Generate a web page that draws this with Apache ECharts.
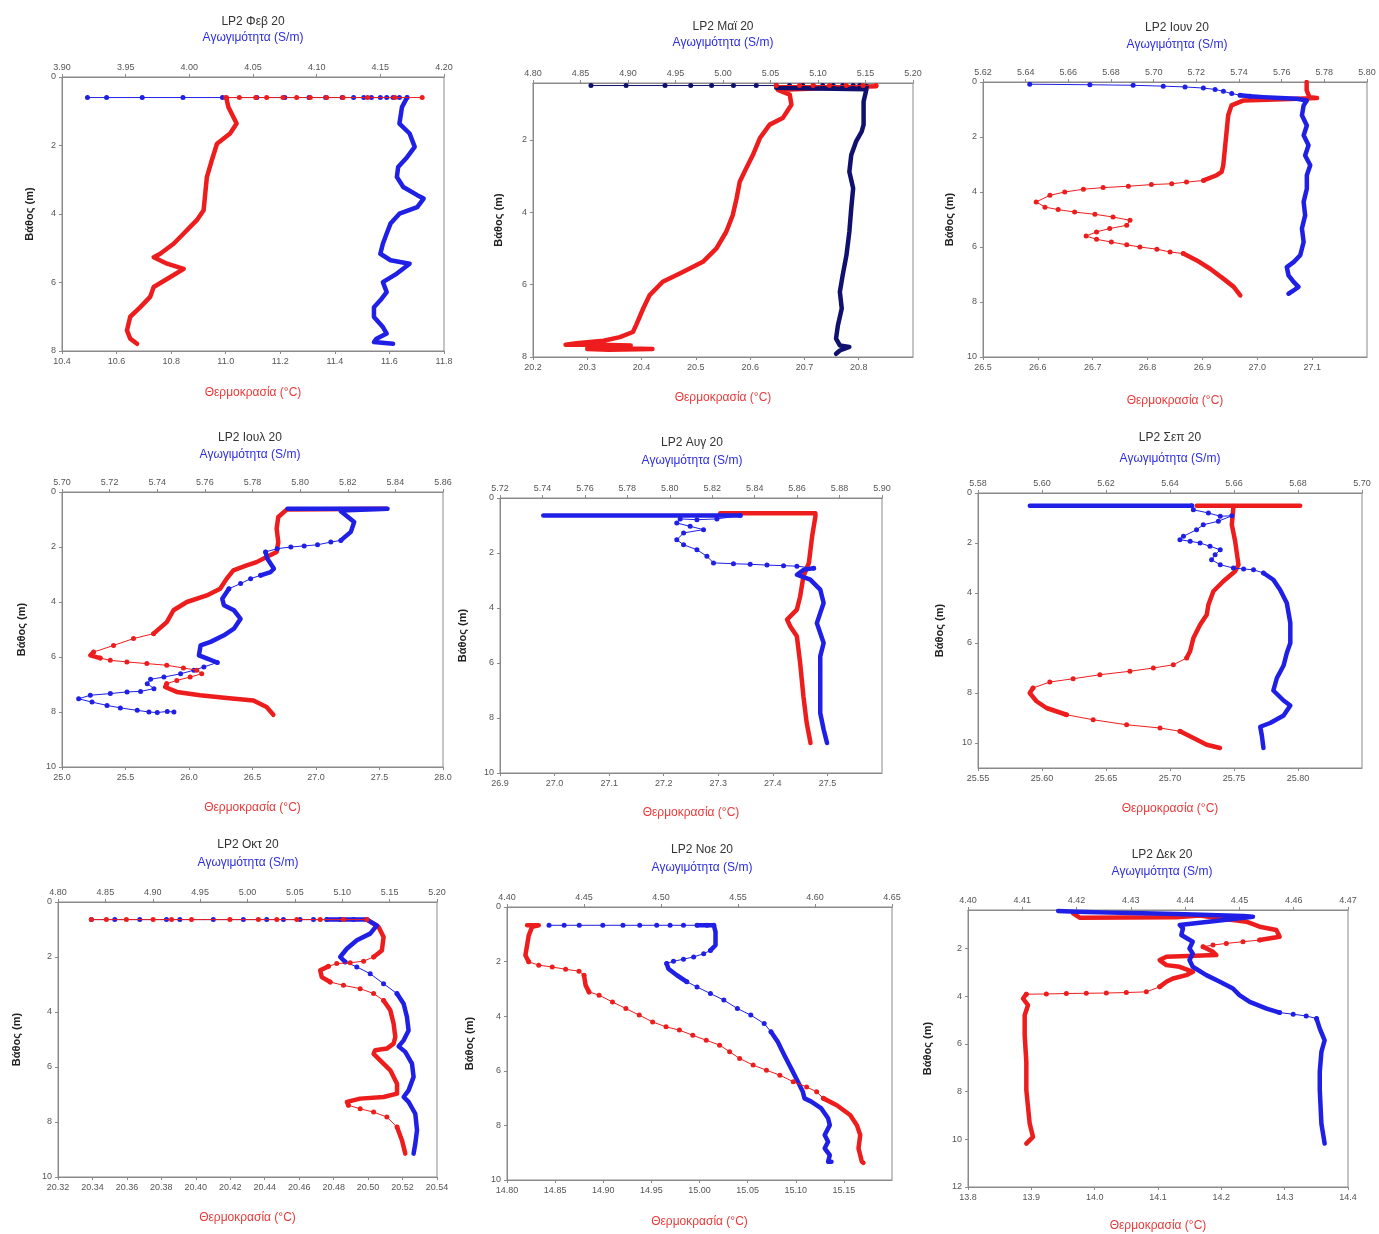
<!DOCTYPE html>
<html><head><meta charset="utf-8">
<script src="https://cdn.jsdelivr.net/npm/echarts@6/dist/echarts.min.js"></script>
<style>html,body{margin:0;padding:0;background:#fff}#c{width:1379px;height:1234px}</style>
</head><body><div id="c"></div><script>
// ---------- DATA: [value, depth(m)] ----------
// Feb
const febCondDots = [[[3.920,0.6],[3.935,0.6],[3.963,0.6],[3.995,0.6],[4.026,0.6],[4.053,0.6],[4.075,0.6],[4.094,0.6],[4.107,0.6],[4.120,0.6],[4.129,0.6],[4.137,0.6],[4.143,0.6],[4.150,0.6],[4.155,0.6],[4.160,0.6],[4.165,0.6],[4.171,0.6]]];
const febCondLine = [[[4.171,0.60],[4.167,0.88],[4.165,1.36],[4.173,1.65],[4.177,2.04],[4.171,2.34],[4.164,2.63],[4.163,2.92],[4.168,3.21],[4.179,3.45],[4.184,3.55],[4.179,3.80],[4.165,3.99],[4.158,4.28],[4.155,4.57],[4.152,4.87],[4.150,5.16],[4.158,5.35],[4.173,5.45],[4.163,5.74],[4.152,5.99],[4.155,6.28],[4.150,6.52],[4.145,6.72],[4.145,7.01],[4.152,7.30],[4.155,7.49],[4.147,7.64],[4.145,7.74],[4.160,7.79]]];
const febTempDots = [[[11.00,0.6],[11.05,0.6],[11.11,0.6],[11.15,0.6],[11.21,0.6],[11.26,0.6],[11.31,0.6],[11.37,0.6],[11.43,0.6],[11.52,0.6],[11.62,0.6],[11.72,0.6]]];
const febTempLine = [[[11.004,0.6],[11.004,0.68],[11.01,0.88],[11.04,1.36],[11.016,1.65],[10.968,1.95],[10.949,2.43],[10.931,2.92],[10.925,3.4],[10.919,3.89],[10.894,4.18],[10.846,4.57],[10.809,4.87],[10.76,5.16],[10.736,5.26],[10.785,5.45],[10.846,5.6],[10.797,5.84],[10.736,6.13],[10.723,6.42],[10.687,6.72],[10.65,7.0],[10.638,7.4],[10.65,7.64],[10.675,7.79]]];
// May
const mayCondDots = [[[4.861,0.5],[4.898,0.5],[4.939,0.5],[4.966,0.5],[4.988,0.5],[5.011,0.5],[5.035,0.5],[5.056,0.5],[5.070,0.5],[5.084,0.5],[5.095,0.5],[5.105,0.5],[5.116,0.5],[5.126,0.5],[5.137,0.5],[5.144,0.5],[5.151,0.52]]];
const mayCondLine = [[[5.056,0.56],[5.100,0.58],[5.151,0.60],[5.148,0.94],[5.148,1.58],[5.146,1.77],[5.140,2.05],[5.135,2.42],[5.133,2.88],[5.137,3.34],[5.135,3.89],[5.133,4.54],[5.130,5.18],[5.126,5.74],[5.123,6.20],[5.125,6.66],[5.121,7.12],[5.119,7.49],[5.123,7.68],[5.133,7.72],[5.123,7.82],[5.119,7.91]]];
const mayTempDots = [[[20.648,0.5],[20.691,0.5],[20.716,0.5],[20.746,0.5],[20.777,0.5],[20.808,0.5],[20.832,0.5]]];
const mayTempLine = [[[20.832,0.52],[20.75,0.56],[20.651,0.62],[20.673,0.75],[20.676,1.03],[20.660,1.40],[20.636,1.58],[20.618,1.95],[20.605,2.42],[20.593,2.78],[20.581,3.15],[20.575,3.62],[20.568,4.08],[20.556,4.54],[20.538,5.0],[20.513,5.37],[20.476,5.65],[20.439,5.92],[20.415,6.29],[20.403,6.66],[20.390,7.12],[20.384,7.31],[20.36,7.45],[20.33,7.55],[20.28,7.62],[20.26,7.66],[20.32,7.66],[20.38,7.68],[20.30,7.72],[20.36,7.76],[20.42,7.78],[20.34,7.80],[20.30,7.78]]];
// Jun
const junCondDots = [[[5.6419,0.08],[5.6701,0.10],[5.6904,0.12],[5.7045,0.15],[5.7147,0.18],[5.7233,0.22],[5.7288,0.27],[5.7327,0.34],[5.7366,0.42],[5.7405,0.48],[5.7452,0.52]]];
const junCondLine = [[[5.7405,0.48],[5.7452,0.52],[5.7515,0.55],[5.7593,0.58],[5.7671,0.61],[5.7718,0.67],[5.7703,0.85],[5.7695,1.21],[5.7718,1.58],[5.7703,1.94],[5.7726,2.30],[5.7710,2.67],[5.7734,3.03],[5.7718,3.39],[5.7718,3.88],[5.7703,4.36],[5.7710,4.85],[5.7695,5.33],[5.7703,5.82],[5.7687,6.30],[5.7656,6.55],[5.7624,6.73],[5.7632,7.03],[5.7656,7.27],[5.7679,7.45],[5.7656,7.58],[5.7632,7.70]]];
const junTempDots = [[[26.902,3.58],[26.871,3.64],[26.844,3.70],[26.807,3.73],[26.765,3.79],[26.719,3.84],[26.683,3.90],[26.649,4.0],[26.622,4.12],[26.597,4.36],[26.613,4.55],[26.637,4.64],[26.667,4.73],[26.704,4.81],[26.737,4.91],[26.768,5.03],[26.762,5.21],[26.731,5.33],[26.707,5.45],[26.688,5.60],[26.707,5.72],[26.734,5.82],[26.762,5.92],[26.786,6.0],[26.817,6.08],[26.841,6.18],[26.865,6.24]]];
const junTempLine = [[[27.090,0.0],[27.090,0.3],[27.095,0.55],[27.109,0.58],[27.06,0.62],[26.975,0.67],[26.953,0.85],[26.947,1.21],[26.944,1.82],[26.941,2.42],[26.938,3.03],[26.935,3.27],[26.926,3.39],[26.902,3.58]],
  [[26.865,6.24],[26.889,6.48],[26.914,6.79],[26.938,7.15],[26.957,7.45],[26.969,7.76]]];
// Jul
const julCondDots = [[[5.8171,1.76],[5.8129,1.82],[5.8073,1.92],[5.8017,1.96],[5.7961,2.0],[5.7904,2.06],[5.7855,2.18]],
  [[5.7834,3.03],[5.7792,3.15],[5.7750,3.33],[5.7701,3.52]],
  [[5.7652,6.20],[5.7596,6.36],[5.7554,6.48],[5.7498,6.61],[5.7428,6.73],[5.7372,6.81],[5.7358,6.97],[5.7386,7.15],[5.7330,7.25],[5.7273,7.27],[5.7203,7.33],[5.7119,7.39],[5.7070,7.52],[5.7126,7.64],[5.7189,7.76],[5.7245,7.85],[5.7316,7.94],[5.7365,8.0],[5.7400,8.02],[5.7442,7.98],[5.7470,8.0]]];
const julCondLine = [[[5.7947,0.61],[5.8367,0.61],[5.8200,0.66],[5.8171,0.70],[5.8227,1.09],[5.8213,1.45],[5.8171,1.76]],
  [[5.7855,2.18],[5.7862,2.42],[5.7890,2.79],[5.7876,2.91],[5.7834,3.03]],
  [[5.7701,3.52],[5.7673,3.88],[5.7680,4.12],[5.7722,4.30],[5.7750,4.61],[5.7722,4.97],[5.7680,5.21],[5.7624,5.45],[5.7582,5.58],[5.7575,5.94],[5.7610,6.06],[5.7652,6.20]]];
const julTempDots = [[[25.721,5.15],[25.563,5.33],[25.406,5.58],[25.249,5.82]],
  [[25.301,6.04],[25.380,6.12],[25.511,6.18],[25.668,6.24],[25.825,6.30],[25.956,6.40],[26.061,6.48],[26.100,6.61],[26.009,6.73],[25.904,6.85],[25.825,6.97]]];
const julTempLine = [[[27.555,0.61],[26.769,0.64],[26.703,0.91],[26.690,1.33],[26.703,1.82],[26.690,2.18],[26.611,2.36],[26.532,2.55],[26.454,2.67],[26.349,2.85],[26.297,3.15],[26.245,3.52],[26.140,3.76],[25.983,4.0],[25.878,4.30],[25.825,4.73],[25.721,5.15]],
  [[25.249,5.82],[25.223,5.94],[25.301,6.04]],
  [[25.825,6.97],[25.812,7.09],[25.904,7.27],[26.087,7.39],[26.297,7.49],[26.507,7.58],[26.611,7.82],[26.664,8.10]]];
// Aug
const augCondDots = [[[5.8332,0.64],[5.8222,0.76],[5.8128,0.79],[5.8049,0.76],[5.8033,0.91],[5.8096,1.03],[5.8159,1.15],[5.8065,1.27],[5.8033,1.52],[5.8065,1.70],[5.8128,1.88],[5.8175,2.12],[5.8206,2.36],[5.8300,2.39],[5.8379,2.41],[5.8458,2.44],[5.8536,2.46],[5.8599,2.48],[5.8678,2.55]]];
const augCondLine = [[[5.7404,0.64],[5.8332,0.64]],
  [[5.8678,2.55],[5.8631,2.61],[5.8599,2.79],[5.8662,2.97],[5.8709,3.33],[5.8725,3.82],[5.8709,4.18],[5.8693,4.55],[5.8709,4.91],[5.8725,5.27],[5.8709,5.76],[5.8709,6.24],[5.8709,6.97],[5.8709,7.82],[5.8725,8.42],[5.8741,8.91]]];
const augTempDots = [];
const augTempLine = [[[27.3035,0.55],[27.478,0.55],[27.478,0.67],[27.472,1.39],[27.466,2.36],[27.456,2.85],[27.450,3.58],[27.444,4.06],[27.426,4.42],[27.432,4.67],[27.444,5.03],[27.450,6.0],[27.456,7.21],[27.462,8.18],[27.469,8.91]]];
// Sep
const sepCondDots = [[[5.6468,0.51],[5.6473,0.67],[5.6520,0.80],[5.6557,0.93],[5.6593,0.91],[5.6551,1.13],[5.6504,1.27],[5.6483,1.47],[5.6442,1.73],[5.6431,1.87],[5.6463,1.93],[5.6494,2.0],[5.6525,2.13],[5.6557,2.27],[5.6541,2.47],[5.6530,2.67],[5.6557,2.87],[5.6598,3.0],[5.6630,3.04],[5.6661,3.07],[5.6692,3.2]]];
const sepCondLine = [[[5.5962,0.51],[5.6468,0.51]],
  [[5.6692,3.2],[5.6723,3.47],[5.6744,3.87],[5.6765,4.4],[5.6776,5.2],[5.6776,6.0],[5.6765,6.4],[5.6755,6.9],[5.6734,7.4],[5.6723,7.9],[5.6755,8.3],[5.6776,8.5],[5.6755,8.9],[5.6713,9.2],[5.6682,9.35],[5.6687,9.7],[5.6692,10.2]]];
const sepTempDots = [[[25.7130,6.6],[25.7026,6.87],[25.6870,7.0],[25.6687,7.13],[25.6452,7.27],[25.6243,7.43],[25.6061,7.56],[25.5930,7.8]],
  [[25.6191,8.87],[25.6400,9.07],[25.6661,9.27],[25.6922,9.4],[25.7078,9.53]]];
const sepTempLine = [[[25.7209,0.51],[25.8017,0.51]],
  [[25.7496,0.52],[25.7483,1.27],[25.7509,1.93],[25.7535,2.87],[25.7509,3.13],[25.7417,3.53],[25.7339,3.93],[25.7300,4.47],[25.7287,4.87],[25.7235,5.27],[25.7183,5.8],[25.7157,6.33],[25.7130,6.6]],
  [[25.5930,7.8],[25.5904,8.0],[25.5957,8.33],[25.6035,8.6],[25.6191,8.87]],
  [[25.7078,9.53],[25.7183,9.8],[25.7287,10.07],[25.7391,10.2]]];
// Oct
const octCondDots = [[[4.8352,0.64],[4.8599,0.64],[4.8863,0.64],[4.9145,0.64],[4.9286,0.64],[4.9639,0.64],[4.9956,0.64],[5.0203,0.64],[5.0379,0.64],[5.0555,0.64],[5.0696,0.64],[5.0837,0.64],[5.0978,0.64],[5.1119,0.64],[5.1260,0.64]],
  [[5.1031,2.18],[5.1154,2.36],[5.1295,2.61],[5.1436,2.97],[5.1577,3.33]]];
const octCondLine = [[[5.0837,0.64],[5.1260,0.64],[5.1366,0.85],[5.1295,1.15],[5.1154,1.39],[5.1048,1.70],[5.0978,2.0],[5.1031,2.18]],
  [[5.1577,3.33],[5.1648,3.70],[5.1683,4.18],[5.1700,4.67],[5.1648,5.03],[5.1595,5.25],[5.1665,5.45],[5.1736,5.88],[5.1753,6.36],[5.1700,6.85],[5.1648,7.09],[5.1700,7.27],[5.1771,7.70],[5.1789,8.30],[5.1771,8.79],[5.1753,9.15]]];
const octTempDots = [[[20.3394,0.64],[20.3481,0.64],[20.3597,0.64],[20.3752,0.64],[20.3859,0.64],[20.3975,0.64],[20.4198,0.64],[20.4363,0.64],[20.4470,0.64],[20.4586,0.64],[20.4722,0.64],[20.4857,0.64],[20.4993,0.64]],
  [[20.5032,2.0],[20.4974,2.15],[20.4896,2.21],[20.4818,2.24],[20.4770,2.34]],
  [[20.4780,2.91],[20.4857,3.03],[20.4954,3.15],[20.5032,3.33],[20.5090,3.58]],
  [[20.4886,7.39],[20.4954,7.52],[20.5032,7.64],[20.5109,7.82],[20.5168,8.18]]];
const octTempLine = [[[20.4993,0.64],[20.5061,0.91],[20.5090,1.27],[20.5080,1.76],[20.5032,2.0]],
  [[20.4770,2.34],[20.4722,2.48],[20.4731,2.73],[20.4780,2.91]],
  [[20.5090,3.58],[20.5129,3.94],[20.5148,4.42],[20.5158,4.91],[20.5148,5.15],[20.5109,5.33],[20.5041,5.39],[20.5032,5.52],[20.5070,5.76],[20.5129,6.12],[20.5168,6.61],[20.5168,6.97],[20.5090,7.09],[20.4954,7.15],[20.4877,7.27],[20.4886,7.39]],
  [[20.5168,8.18],[20.5197,8.67],[20.5216,9.15]]];
// Nov
const novCondDots = [[[4.4273,0.67],[4.4371,0.67],[4.4469,0.67],[4.4622,0.67],[4.4753,0.67],[4.4862,0.67],[4.4972,0.67],[4.5059,0.67],[4.5146,0.67],[4.5234,0.67],[4.5299,0.67],[4.5343,0.67]],
  [[4.5321,1.59],[4.5277,1.71],[4.5212,1.83],[4.5146,1.91],[4.5081,1.99],[4.5037,2.07]],
  [[4.5168,2.74],[4.5234,2.93],[4.5321,3.17],[4.5408,3.41],[4.5496,3.72],[4.5583,3.96],[4.5670,4.27],[4.5714,4.57]]];
const novCondLine = [[[4.5234,0.67],[4.5343,0.67],[4.5354,0.91],[4.5354,1.40],[4.5321,1.59]],
  [[4.5037,2.07],[4.5048,2.26],[4.5103,2.50],[4.5168,2.74]],
  [[4.5714,4.57],[4.5758,4.94],[4.5801,5.43],[4.5845,5.91],[4.5889,6.40],[4.5921,6.77],[4.5932,7.01],[4.5976,7.13],[4.6041,7.38],[4.6085,7.74],[4.6096,7.99],[4.6063,8.35],[4.6085,8.60],[4.6063,8.84],[4.6096,9.09],[4.6085,9.33],[4.6107,9.33]]];
const novTempDots = [[[14.8226,2.01],[14.8330,2.13],[14.8470,2.20],[14.8609,2.28],[14.8748,2.35],[14.8800,2.5]],
  [[14.8852,3.11],[14.8957,3.23],[14.9096,3.48],[14.9235,3.72],[14.9374,3.96],[14.9513,4.21],[14.9652,4.39],[14.9791,4.51],[14.9930,4.70],[15.0070,4.88],[15.0209,5.06],[15.0313,5.30],[15.0417,5.55],[15.0557,5.79],[15.0696,5.98],[15.0835,6.16],[15.0974,6.40],[15.1113,6.59],[15.1217,6.77],[15.1287,7.01]]];
const novTempLine = [[[14.8209,0.67],[14.8330,0.67],[14.8261,0.73],[14.8226,1.04],[14.8209,1.40],[14.8191,1.77],[14.8226,2.01]],
  [[14.8800,2.5],[14.8817,2.87],[14.8852,3.11]],
  [[15.1287,7.01],[15.1426,7.26],[15.1565,7.62],[15.1635,7.99],[15.1670,8.35],[15.1652,8.84],[15.1687,9.33],[15.1704,9.37]]];
// Dec
const decCondDots = [[[4.4574,4.69],[4.4599,4.76],[4.4623,4.83],[4.4642,4.94]]];
const decCondLine = [[[4.4166,0.43],[4.4200,0.46],[4.4261,0.50],[4.4322,0.53],[4.4384,0.56],[4.4445,0.60],[4.4507,0.64],[4.4525,0.67],[4.4390,1.02],[4.4396,1.16],[4.4393,1.44],[4.4414,1.72],[4.4408,2.0],[4.4414,2.21],[4.4408,2.49],[4.4414,2.77],[4.4439,3.12],[4.4464,3.40],[4.4488,3.68],[4.4500,3.96],[4.4519,4.24],[4.4550,4.52],[4.4574,4.69]],
  [[4.4642,4.94],[4.4648,5.36],[4.4657,5.85],[4.4651,6.34],[4.4648,7.17],[4.4648,7.94],[4.4651,9.34],[4.4657,10.18]]];
const decTempDots = [[[14.2605,1.65],[14.2342,1.72],[14.2079,1.79],[14.1868,1.86],[14.1711,1.93]],
  [[14.1026,3.61],[14.0816,3.82],[14.0500,3.85],[14.0184,3.87],[13.9868,3.88],[13.9553,3.89],[13.9237,3.91],[13.8921,3.92]]];
const decTempLine = [[[13.9658,0.53],[13.9763,0.71],[14.05,0.70],[14.1289,0.69],[14.1658,0.62],[14.20,0.75],[14.2395,0.88],[14.2605,1.09],[14.2868,1.23],[14.2921,1.51],[14.2605,1.65]],
  [[14.1711,1.93],[14.1868,2.14],[14.1921,2.28],[14.1132,2.35],[14.1026,2.49],[14.1132,2.70],[14.1342,2.77],[14.1553,2.98],[14.1447,3.12],[14.1237,3.26],[14.1132,3.40],[14.1026,3.61]],
  [[13.8921,3.92],[13.8868,4.10],[13.8947,4.38],[13.8895,4.80],[13.8895,5.64],[13.8921,6.76],[13.8921,7.94],[13.8974,9.34],[13.9026,9.90],[13.8921,10.18]]];

// ---------- AXES / TITLES ----------
const titles = ['LP2 Φεβ 20','LP2 Μαϊ 20','LP2 Ιουν 20','LP2 Ιουλ 20','LP2 Αυγ 20','LP2 Σεπ 20','LP2 Οκτ 20','LP2 Νοε 20','LP2 Δεκ 20'];
const condAxes = [[3.90,4.20,0.05,2],[4.80,5.20,0.05,2],[5.62,5.80,0.02,2],[5.70,5.86,0.02,2],[5.72,5.90,0.02,2],[5.58,5.70,0.02,2],[4.80,5.20,0.05,2],[4.40,4.65,0.05,2],[4.40,4.47,0.01,2]];
const tempAxes = [[10.4,11.8,0.2,1,true],[20.2,20.9,0.1,1,false],[26.5,27.2,0.1,1,false],[25.0,28.0,0.5,1,true],[26.9,27.6,0.1,1,false],[25.55,25.85,0.05,2,false],[20.32,20.54,0.02,2,true],[14.80,15.20,0.05,2,false],[13.8,14.4,0.1,1,true]];
const depthAxes = [[0,8,[0,2,4,6,8]],[0.43,8,[2,4,6,8]],[0,10,[0,2,4,6,8,10]],[0,10,[0,2,4,6,8,10]],[0,10,[0,2,4,6,8,10]],[0,11,[0,2,4,6,8,10]],[0,10,[0,2,4,6,8,10]],[0,10,[0,2,4,6,8,10]],[0.39,12,[2,4,6,8,10,12]]];
const condLabel = 'Αγωγιμότητα (S/m)';
const tempLabel = 'Θερμοκρασία (°C)';
const depthLabel = 'Βάθος (m)';
const panelData = [
  [febCondLine,febCondDots,febTempLine,febTempDots],
  [mayCondLine,mayCondDots,mayTempLine,mayTempDots],
  [junCondLine,junCondDots,junTempLine,junTempDots],
  [julCondLine,julCondDots,julTempLine,julTempDots],
  [augCondLine,augCondDots,augTempLine,augTempDots],
  [sepCondLine,sepCondDots,sepTempLine,sepTempDots],
  [octCondLine,octCondDots,octTempLine,octTempDots],
  [novCondLine,novCondDots,novTempLine,novTempDots],
  [decCondLine,decCondDots,decTempLine,decTempDots]];

// ---------- LAYOUT (px) ----------
// [left, top, width, height, titleCx, titleY, subY, xNameY, yNameX]
const layout = [
  [62,77,382,274, 253,22,38,393,30],
  [533,83,380,274, 723,27,43,398,499],
  [983,82,384,275, 1177,28,45,401,950],
  [62,492,381,275, 250,438,455,808,22],
  [500,498,382,275, 692,443,461,813,463],
  [978,493,384,275, 1170,438,459,809,940],
  [58,902,379,275, 248,845,863,1218,17],
  [507,907,385,273, 702,850,868,1222,470],
  [968,910,380,277, 1162,855,872,1226,928]];

const RED = '#ee1d1d', BLUE = '#1f1fe6', NAVY = '#10106e';
const FONT = '"Liberation Sans", Arial, sans-serif';

const grid = [], xAxis = [], yAxis = [], series = [], graphic = [];
layout.forEach((L, i) => {
  const [left, top, width, height, tcx, ty, sy, xny, ynx] = L;
  grid.push({left, top, width, height, show: true, borderColor: '#8a8a8a', borderWidth: 1, backgroundColor: 'transparent'});
  const ca = condAxes[i], ta = tempAxes[i], da = depthAxes[i];
  const common = {
    type: 'value', gridIndex: i, splitLine: {show: false},
    axisLine: {show: true, onZero: false, lineStyle: {color: '#8a8a8a', width: 1}},
    axisTick: {show: true, inside: false, length: 3, lineStyle: {color: '#8a8a8a'}}
  };
  xAxis.push(Object.assign({}, common, {
    position: 'top', min: ca[0], max: ca[1], interval: ca[2],
    axisLabel: {fontSize: 9, color: '#555', fontFamily: FONT, margin: 5, formatter: v => v.toFixed(ca[3])}
  }));
  xAxis.push(Object.assign({}, common, {
    position: 'bottom', min: ta[0], max: ta[1], interval: ta[2],
    axisLabel: {fontSize: 9, color: '#555', fontFamily: FONT, margin: 6, showMaxLabel: ta[4], showMinLabel: true, formatter: v => v.toFixed(ta[3])}
  }));
  yAxis.push(Object.assign({}, common, {
    inverse: true, min: da[0], max: da[1],
    axisTick: {show: true, length: 3, lineStyle: {color: '#8a8a8a'}, customValues: da[2]},
    axisLabel: {fontSize: 9, color: '#555', fontFamily: FONT, margin: 6, customValues: da[2], formatter: v => String(Math.round(v))}
  }));
  const [cLine, cDots, tLine, tDots] = panelData[i];
  const cColor = i === 1 ? NAVY : BLUE;
  const addSeries = (segs, axisIdx, color, dotted, z) => {
    segs.forEach(seg => {
      series.push({
        type: 'line', xAxisIndex: axisIdx, yAxisIndex: i, data: seg, animation: false,
        silent: true, smooth: false,
        symbol: dotted ? 'circle' : 'none', symbolSize: dotted ? 5 : 0, showSymbol: dotted,
        itemStyle: {color},
        lineStyle: {color, width: dotted ? 1 : 4.5, cap: 'round', join: 'round'},
        z
      });
    });
  };
  addSeries(tLine, 2 * i + 1, RED, false, 2);
  addSeries(cLine, 2 * i, cColor, false, 3);
  addSeries(cDots, 2 * i, cColor, true, 4);
  addSeries(tDots, 2 * i + 1, RED, true, 5);

  graphic.push({type: 'text', x: tcx, y: ty, style: {text: titles[i], fill: '#333', font: '12px ' + FONT, textAlign: 'center', textVerticalAlign: 'middle'}});
  graphic.push({type: 'text', x: tcx, y: sy, style: {text: condLabel, fill: '#2d2de0', font: '12px ' + FONT, textAlign: 'center', textVerticalAlign: 'middle'}});
  graphic.push({type: 'text', x: left + width / 2, y: xny, style: {text: tempLabel, fill: '#e83a3a', font: '12px ' + FONT, textAlign: 'center', textVerticalAlign: 'middle'}});
  graphic.push({type: 'text', x: ynx, y: top + height / 2, rotation: Math.PI / 2, style: {text: depthLabel, fill: '#222', font: 'bold 11px ' + FONT, textAlign: 'center', textVerticalAlign: 'middle'}});
});

const chart = echarts.init(document.getElementById('c'), null, {renderer: 'canvas'});
chart.setOption({animation: false, backgroundColor: '#fff', grid, xAxis, yAxis, series, graphic});
</script></body></html>
